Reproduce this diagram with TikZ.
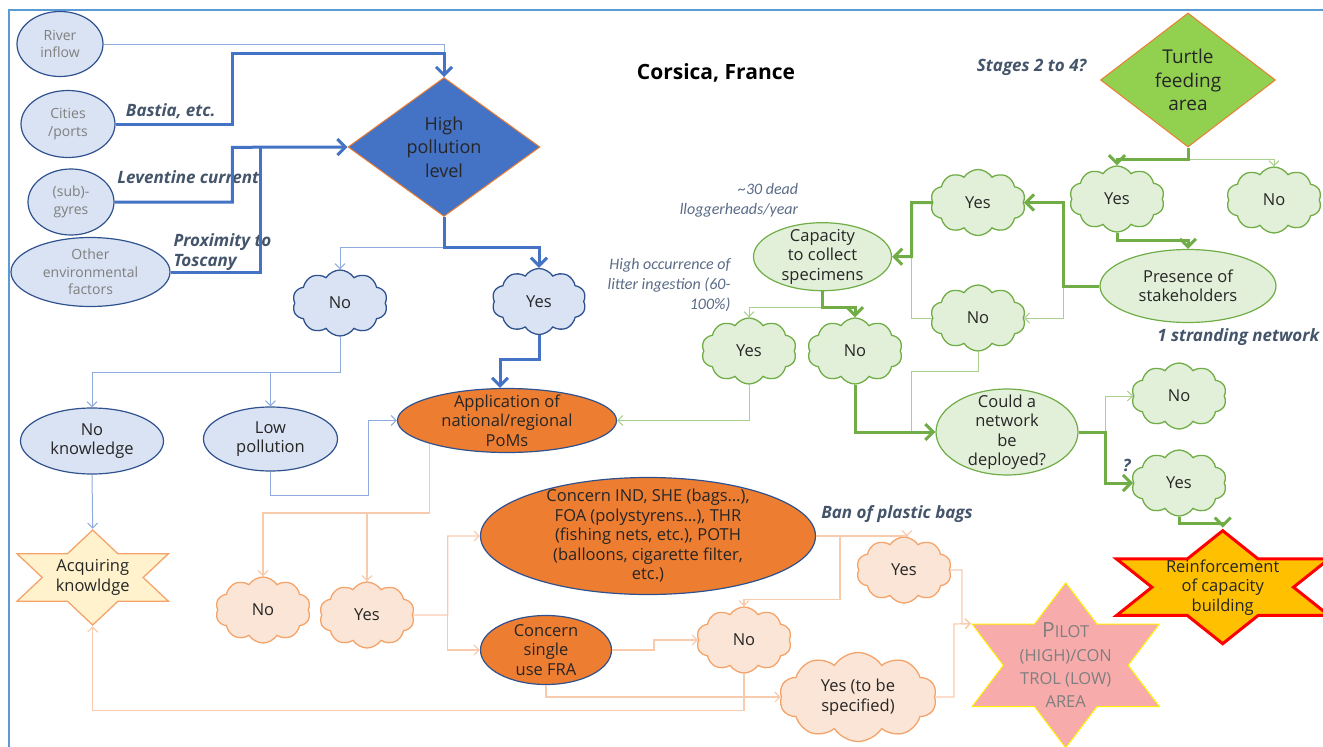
\documentclass[tikz,border=0pt]{standalone}
\usepackage{fontspec}
\setmainfont{Open Sans}
\newfontfamily\calfont{Carlito}
\usetikzlibrary{shapes.geometric}
\usetikzlibrary{shapes.symbols}
\usetikzlibrary{arrows.meta}
\definecolor{bluefill}{HTML}{DAE3F3}
\definecolor{blueedge}{HTML}{2F528F}
\definecolor{bluearrow}{HTML}{4472C4}
\definecolor{bluethin}{HTML}{8FAADC}
\definecolor{frameblue}{HTML}{5B9BD5}
\definecolor{orangefill}{HTML}{ED7D31}
\definecolor{orangelight}{HTML}{FBE5D6}
\definecolor{orangeedge}{HTML}{F4A46A}
\definecolor{orangethin}{HTML}{F8CBAD}
\definecolor{greenfill}{HTML}{E2F0D9}
\definecolor{greenedge}{HTML}{70AD47}
\definecolor{greenthin}{HTML}{A9D18E}
\definecolor{turtlegreen}{HTML}{92D050}
\definecolor{starfill}{HTML}{FFF2CC}
\definecolor{pilotfill}{HTML}{F8ABAB}
\definecolor{goldfill}{HTML}{FFC000}
\definecolor{notecol}{HTML}{44546A}
\definecolor{calcol}{HTML}{5A6B86}
\definecolor{txtdark}{HTML}{262626}
\definecolor{txtgray}{HTML}{7F7F7F}

\begin{document}
\begin{tikzpicture}[x=1pt, y=-1pt,
  bigarr/.style={-{Straight Barb[length=8pt,width=16pt]}},
  smallarr/.style={-{Straight Barb[length=5pt,width=10pt]}},
  bthick/.style={draw=bluearrow, line width=3pt},
  bthin/.style={draw=bluethin, line width=1pt},
  gthick/.style={draw=greenedge, line width=3pt},
  gthin/.style={draw=greenthin, line width=1pt},
  othin/.style={draw=orangethin, line width=1.2pt},
  txt/.style={font=\fontsize{16.5}{19.5}\selectfont, text=txtdark, align=center},
  bell/.style={ellipse, draw=blueedge, fill=bluefill, line width=1.2pt, inner xsep=0pt, inner ysep=-10pt, txt},
  srcell/.style={bell, text=txtgray, font=\fontsize{14}{17.3}\selectfont},
  oell/.style={ellipse, draw=blueedge, fill=orangefill, line width=1.2pt, inner xsep=0pt, inner ysep=-10pt, txt},
  gell/.style={ellipse, draw=greenedge, fill=greenfill, line width=1.2pt, inner xsep=0pt, inner ysep=-10pt, txt},
  puff/.style={cloud, cloud puffs=10, cloud puff arc=115, aspect=1.4, inner sep=0pt, line width=1.3pt, minimum width=95pt, minimum height=66pt, txt},
  bcloud/.style={puff, draw=blueedge, fill=bluefill},
  ocloud/.style={puff, draw=orangeedge, fill=orangelight},
  gcloud/.style={puff, draw=greenedge, fill=greenfill},
  decision/.style={diamond, draw=orangefill, line width=1pt, inner sep=0pt, txt, font=\fontsize{18}{23.3}\selectfont},
  hexstar/.style={star, star points=6, star point ratio=1.732, inner sep=0pt},
  note/.style={font=\fontsize{17}{20}\selectfont\bfseries\itshape, text=notecol},
  calnote/.style={font=\calfont\fontsize{16}{20}\selectfont\itshape, text=calcol, align=right}]
\useasboundingbox (0,0) rectangle (1323,747);
\draw[frameblue, line width=2pt] (9,747) -- (9,10) -- (1323,10);

\node[font=\fontsize{21}{25}\selectfont\bfseries, text=black] (title) at (716,72.7) {Corsica,\ France};

% pollution side
\node[srcell, minimum width=86pt, minimum height=65pt] (river) at (60,44) {River\\inflow};
\node[srcell, minimum width=94pt, minimum height=67pt] (cities) at (68,124) {Cities\\/ports};
\node[srcell, minimum width=86pt, minimum height=66pt] (gyres) at (71,202) {(sub)-\\gyres};
\node[srcell, minimum width=159pt, minimum height=69pt] (other) at (90.5,272) {Other\\environmental\\factors};
\node[decision, fill=bluearrow, minimum width=192pt, minimum height=139pt, aspect=1.38] (hpl) at (444,147) {High\\pollution\\level};
\node[note] (bastia) at (170.7,110.7) {Bastia, etc.};
\node[note] (levant) at (188.3,176.7) {Leventine current};
\node[note, anchor=west, align=left] (toscany) at (170,252) {Proximity to\\Toscany};
\node[bcloud] (nob) at (340,303) {No};
\node[bcloud, minimum width=94pt] (yesb) at (539,301.5) {Yes};
\node[bell, minimum width=143pt, minimum height=66pt] (nok) at (92,441) {No\\knowledge};
\node[bell, minimum width=134pt, minimum height=64pt] (lowp) at (270.5,439) {Low\\pollution};
\node[oell, minimum width=219pt, minimum height=64pt] (app) at (507,420.5) {Application of\\national/regional\\PoMs};
\node[hexstar, draw=orangeedge, fill=starfill, line width=1.3pt, minimum size=95pt, xscale=1.84] (acq) at (92.7,577.5) {};
\node[txt] (acqtxt) at (acq.center) {Acquiring\\knowldge};

% measures
\node[ocloud] (noo) at (263,610) {No};
\node[ocloud] (yeso) at (367,615) {Yes};
\node[oell, minimum width=335pt, minimum height=117pt] (cind) at (648,536) {Concern IND, SHE (bags…),\\FOA (polystyrens…), THR\\(fishing nets, etc.), POTH\\(balloons, cigarette filter,\\etc.)};
\node[oell, minimum width=131pt, minimum height=69pt] (csing) at (546,650) {Concern\\single\\use FRA};
\node[ocloud] (nomid) at (744,640) {No};
\node[ocloud] (yesban) at (904,570) {Yes};
\node[ocloud, minimum width=157pt, minimum height=86pt] (yestbs) at (858,697) {Yes (to be\\specified)};
\node[note] (ban) at (897,514) {Ban of plastic bags};
\node[hexstar, draw=yellow, fill=pilotfill, line width=1pt, minimum size=165pt, xscale=1.31] (pilot) at (1065.7,665.3) {};
\node[txt, text=txtgray, font=\fontsize{16.5}{23.3}\selectfont] (pilottxt) at (pilot.center) {{\fontsize{21}{23.3}\selectfont P}ILOT\\(HIGH)/CON\\TROL (LOW)\\AREA};

% turtle side
\node[decision, fill=turtlegreen, minimum width=175pt, minimum height=134pt, aspect=1.3, font=\fontsize{19}{23.3}\selectfont] (turtle) at (1188,80) {Turtle\\feeding\\area};
\node[note] (stages) at (1031.7,67.7) {Stages 2 to 4?};
\node[gcloud] (yesturtle) at (1117,199) {Yes};
\node[gcloud] (noturtle) at (1274,200) {No};
\node[gell, minimum width=176pt, minimum height=73pt] (pres) at (1188,286) {Presence of\\stakeholders};
\node[note] (strand) at (1238.3,336.7) {1 stranding network};
\node[gcloud] (yesu) at (978,202.5) {Yes};
\node[gcloud] (nou) at (978,318) {No};
\node[gell, minimum width=138pt, minimum height=68pt] (cap) at (822.5,256.7) {Capacity\\to collect\\specimens};
\node[calnote, anchor=east] (dead) at (801.7,200.3) {\textasciitilde30 dead\\lloggerheads/year};
\node[calnote, anchor=east] (occur) at (734,285) {High occurrence of\\litter ingestion (60-\\100\%)};
\node[gcloud] (yesg) at (749,351) {Yes};
\node[gcloud] (nog) at (855,351) {No};
\node[gell, minimum width=142pt, minimum height=86pt] (could) at (1007,432) {Could a\\network\\be\\deployed?};
\node[gcloud] (nor) at (1179,396) {No};
\node[gcloud] (yesr) at (1179,483) {Yes};
\node[note] (quest) at (1126.7,465) {?};
\node[hexstar, draw=red, fill=goldfill, line width=3pt, minimum size=113pt, xscale=2.17] (reinf) at (1222.7,587.2) {};
\node[txt] (reinftxt) at (reinf.center) {Reinforcement\\of capacity\\building};

% blue links
\draw[bthin] (river.east) -| (hpl.north);
\draw[bthick, bigarr] (cities.east) -| (232.3,53.3) -| (hpl.north);
\draw[bthick, bigarr] (gyres.east) -| (232.3,147.3) -- (hpl.west);
\draw[bthick] (other.east) -| (260,147.3);
\draw[bthin, smallarr] (hpl.south) -- ++(0,30.7) -| (nob.north);
\draw[bthick, bigarr] (hpl.south) -- ++(0,30.7) -| (yesb.north);
\draw[bthin, smallarr] (nob.south) -- ++(0,35.6) -| (nok.north);
\draw[bthin, smallarr] (nob.south) -- ++(0,35.6) -| (lowp.north);
\draw[bthin, smallarr] (nok.south) -- (acq.north);
\draw[bthin, smallarr] (lowp.south) |- (368.3,495) |- (app.west);
\draw[bthick, bigarr] (yesb.south) -- ++(0,24) -| ([xshift=-7pt]app.north);

% orange links
\draw[othin, smallarr] (app.south west) |- (367,513) -| (noo.north);
\draw[othin, smallarr] (367,513) -- (yeso.north);
\draw[othin, smallarr] (yeso.east) -- (447.7,615) |- (cind.west);
\draw[othin, smallarr] (447.7,615) |- (csing.west);
\draw[othin, smallarr] (cind.east) -| ([xshift=3pt]yesban.north);
\draw[othin, smallarr] (840,536) |- ([yshift=7pt]nomid.north) -- (nomid.north);
\draw[othin, smallarr] (csing.east) -- (654,650) |- (nomid.west);
\draw[othin, smallarr] (csing.south) |- (yestbs.west);
\draw[othin, smallarr] (nomid.south) -- (744,710.7) -| (acq.south);
\draw[othin, smallarr] (yesban.east) -| (962,624) -- (pilot.outer point 2);
\draw[othin, smallarr] (yestbs.east) -| (954,624) -- (pilot.outer point 2);

% green links
\draw[gthin, smallarr] (turtle.south) -- ++(0,11.6) -| (noturtle.north);
\draw[gthick, bigarr] (turtle.south) -- ++(0,11.6) -| (yesturtle.north);
\draw[gthick, bigarr] (yesturtle.south) -- ++(0,8.3) -| (pres.north);
\draw[gthin, smallarr] (1063.3,286) |- (nou.east);
\draw[gthick, bigarr] (pres.west) -- (1063.3,286) |- (yesu.east);
\draw[gthin] (nou.west) -| (911.7,256.7);
\draw[gthick, bigarr] (yesu.west) -- (911.7,202.5) |- (cap.east);
\draw[gthin, smallarr] (cap.south) -- ++(0,16) -| (yesg.north);
\draw[gthick, bigarr] (cap.south) -- ++(0,16) -| (nog.north);
\draw[gthin, smallarr] (yesg.south) |- (app.east);
\draw[gthin] (nou.south) -- ++(0,19.7) -| (911.7,432);
\draw[gthick, bigarr] (nog.south) |- (could.west);
\draw[gthin, smallarr] (1105,432) |- (nor.west);
\draw[gthick, bigarr] (could.east) -- (1105,432) |- (yesr.west);
\draw[gthick, bigarr] (yesr.south) -- ++(0,7) -| (reinf.north);
\end{tikzpicture}
\end{document}
